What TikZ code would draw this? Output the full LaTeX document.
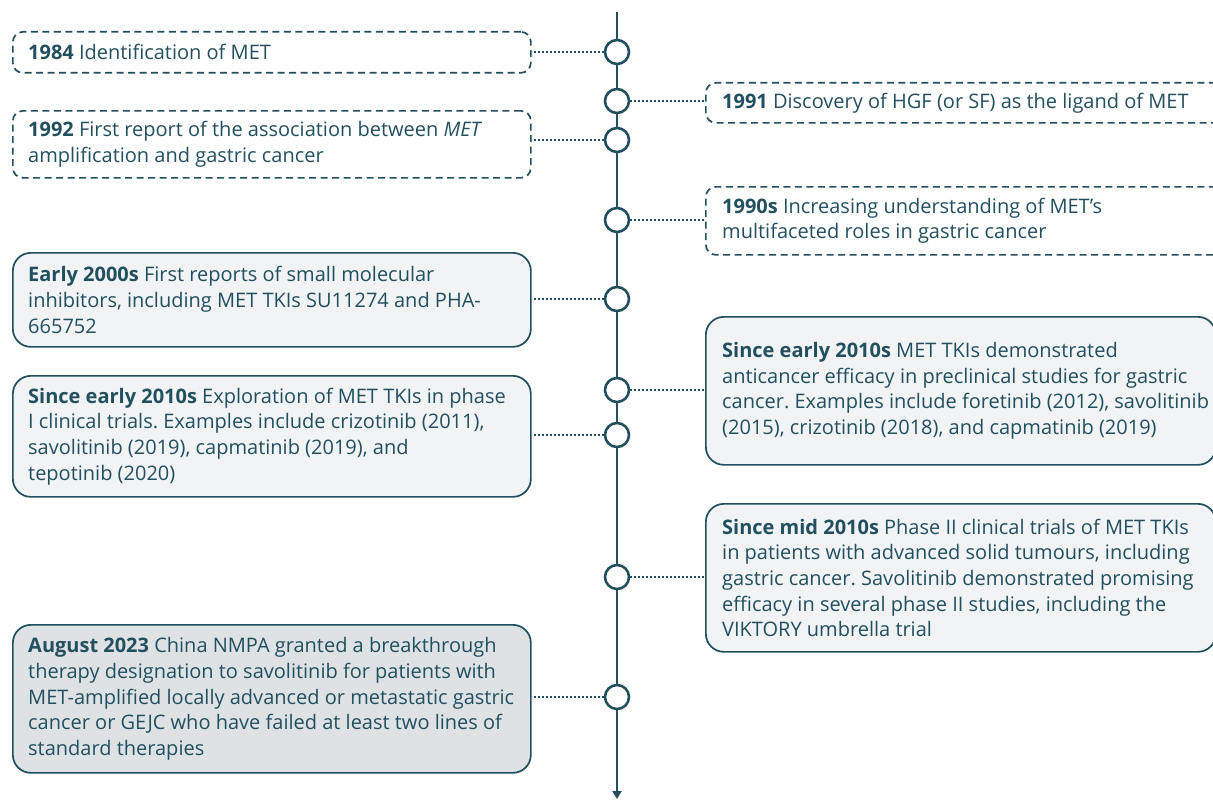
\documentclass[tikz,border=0pt]{standalone}
\usepackage{fontspec}
\setmainfont{Open Sans}
\usetikzlibrary{arrows.meta}
\definecolor{teal1}{HTML}{22505F}
\definecolor{boxfill}{HTML}{F1F3F5}
\definecolor{boxdark}{HTML}{DEE2E5}
\frenchspacing
\tikzset{
  txt/.style={text=teal1, font=\fontsize{20}{25.7}\selectfont, align=left, inner sep=0pt, anchor=west},
  frame/.style={draw=teal1, line width=1.7pt, anchor=north west, inner sep=0pt},
  dashbox/.style={frame, dash pattern=on 7pt off 4.5pt, rounded corners=10pt},
  solidbox/.style={frame, fill=boxfill, rounded corners=18pt},
  darkbox/.style={solidbox, fill=boxdark},
  milestone/.style={circle, draw=teal1, fill=white, line width=2.6pt, minimum size=24pt, inner sep=0pt},
  link/.style={draw=teal1, line width=2.5pt, dash pattern=on 2pt off 2pt},
  axis/.style={draw=teal1, line width=2pt, -{Triangle[width=9pt,length=8pt]}},
}
\begin{document}
\begin{tikzpicture}[x=1pt,y=-1pt]
\useasboundingbox (0,0) rectangle (1213,800);
% timeline
\coordinate (top) at (617,12);
\coordinate (bot) at (617,799);
\draw[axis] (top) -- (bot);
% left boxes
\node[dashbox, minimum width=518pt, minimum height=41pt] (b1984) at (12,31) {};
\node[txt] (t1984) at ([xshift=16pt]b1984.west)
  {\textbf{1984} Identification of MET};
\node[dashbox, minimum width=518pt, minimum height=67pt] (b1992) at (12,110) {};
\node[txt] (t1992) at ([xshift=16pt]b1992.west)
  {\textbf{1992} First report of the association between \textit{MET}\\amplification and gastric cancer};
\node[solidbox, minimum width=518pt, minimum height=94pt] (b2000) at (12,252) {};
\node[txt] (t2000) at ([xshift=16pt]b2000.west)
  {\textbf{Early 2000s} First reports of small molecular\\inhibitors, including MET TKIs SU11274 and PHA-\\665752};
\node[solidbox, minimum width=518pt, minimum height=121pt] (bL2010) at (12,375) {};
\node[txt] (tL2010) at ([xshift=16pt]bL2010.west)
  {\textbf{Since early 2010s} Exploration of MET TKIs in phase\\I clinical trials. Examples include crizotinib (2011),\\savolitinib (2019), capmatinib (2019), and\\tepotinib (2020)};
\node[darkbox, minimum width=518pt, minimum height=148pt] (b2023) at (12,624) {};
\node[txt] (t2023) at ([xshift=16pt]b2023.west)
  {\textbf{August 2023} China NMPA granted a breakthrough\\therapy designation to savolitinib for patients with\\MET-amplified locally advanced or metastatic gastric\\cancer or GEJC who have failed at least two lines of\\standard therapies};
% right boxes
\node[dashbox, minimum width=520pt, minimum height=40pt] (b1991) at (705,82) {};
\node[txt] (t1991) at ([xshift=17pt]b1991.west)
  {\textbf{1991} Discovery of HGF (or SF) as the ligand of MET};
\node[dashbox, minimum width=520pt, minimum height=68pt] (b1990) at (705,186) {};
\node[txt] (t1990) at ([xshift=17pt]b1990.west)
  {\textbf{1990s} Increasing understanding of MET’s\\multifaceted roles in gastric cancer};
\node[solidbox, minimum width=510pt, minimum height=148pt] (bR2010) at (705,316) {};
\node[txt] (tR2010) at ([xshift=17pt]bR2010.west)
  {\textbf{Since early 2010s} MET TKIs demonstrated\\anticancer efficacy in preclinical studies for gastric\\cancer. Examples include foretinib (2012), savolitinib\\(2015), crizotinib (2018), and capmatinib (2019)};
\node[solidbox, minimum width=510pt, minimum height=148pt] (bmid) at (705,503) {};
\node[txt] (tmid) at ([xshift=17pt]bmid.west)
  {\textbf{Since mid 2010s} Phase II clinical trials of MET TKIs\\in patients with advanced solid tumours, including\\gastric cancer. Savolitinib demonstrated promising\\efficacy in several phase II studies, including the\\VIKTORY umbrella trial};
% milestones
\node[milestone] (c1) at (617,52) {};
\node[milestone] (c2) at (617,101) {};
\node[milestone] (c3) at (617,140) {};
\node[milestone] (c4) at (617,220) {};
\node[milestone] (c5) at (617,299) {};
\node[milestone] (c6) at (617,390) {};
\node[milestone] (c7) at (617,435) {};
\node[milestone] (c8) at (617,577) {};
\node[milestone] (c9) at (617,697) {};
% connectors
\draw[link] (c1.west) -- (c1.west -| b1984.east);
\draw[link] (c3.west) -- (c3.west -| b1992.east);
\draw[link] (c5.west) -- (c5.west -| b2000.east);
\draw[link] (c7.west) -- (c7.west -| bL2010.east);
\draw[link] (c9.west) -- (c9.west -| b2023.east);
\draw[link] (c2.east) -- (c2.east -| b1991.west);
\draw[link] (c4.east) -- (c4.east -| b1990.west);
\draw[link] (c6.east) -- (c6.east -| bR2010.west);
\draw[link] (c8.east) -- (c8.east -| bmid.west);
\end{tikzpicture}
\end{document}
